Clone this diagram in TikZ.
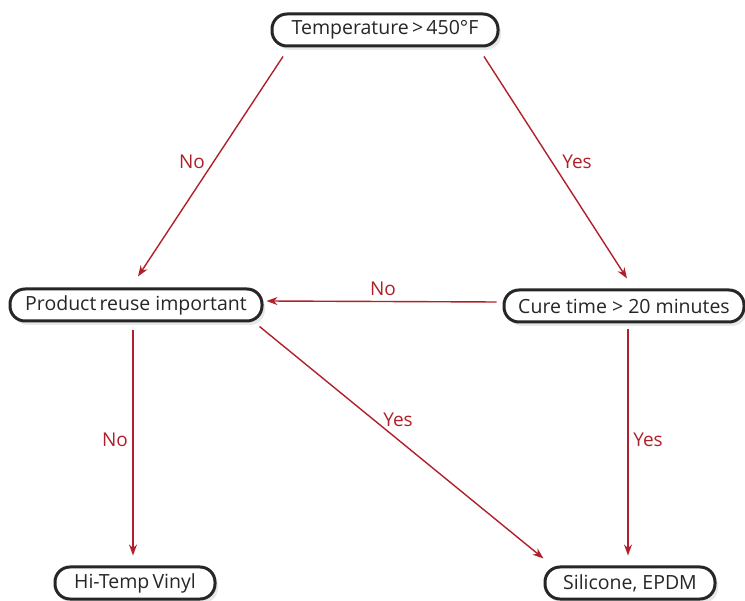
\documentclass[tikz,border=0pt]{standalone}
\usepackage{fontspec}
\setmainfont{Open Sans}
\usetikzlibrary{arrows.meta,shadows,calc}
\definecolor{arr}{HTML}{B0202A}
\definecolor{boxline}{HTML}{262626}
\tikzset{
  box/.style={draw=boxline, line width=3pt, rounded corners=15pt, fill=white,
    minimum height=32pt, inner sep=0pt, font=\fontsize{19.5}{23}\selectfont, text=black!85,
    drop shadow={opacity=0.18, shadow xshift=3pt, shadow yshift=-4pt}},
  conn/.style={draw=arr, line width=1.4pt, -{Stealth[length=11pt,width=8pt]}},
  lbl/.style={text=arr, font=\fontsize{19}{23}\selectfont, inner sep=0pt}
}
\begin{document}
\begin{tikzpicture}[x=1pt,y=-1pt]
\useasboundingbox (0,0) rectangle (745,601);
\node[box, minimum width=226pt] (top) at (385,30) {Temperature\,>\,450\textdegree F};
\node[box, minimum width=252pt] (prod) at (136,305) {Product\,reuse important};
\node[box, minimum width=240pt] (cure) at (624,306) {Cure time > 20 minutes};
\node[box, minimum width=160pt] (vinyl) at (135,583) {Hi-Temp\,Vinyl};
\node[box, minimum width=170pt] (sil) at (630,583) {Silicone, EPDM};

\draw[conn] ([xshift=-102pt,yshift=-9pt]top.south) -- ([xshift=2pt,yshift=11pt]prod.north);
\draw[conn] ([xshift=99pt,yshift=-9pt]top.south) -- ([xshift=3pt,yshift=10pt]cure.north);
\draw[conn] ([xshift=-6pt,yshift=4pt]cure.west) -- ([xshift=3pt,yshift=4pt]prod.east);
\draw[conn] ([xshift=-3pt,yshift=-8pt]prod.south) -- ([xshift=-2pt,yshift=10pt]vinyl.north);
\draw[conn] ([xshift=-4pt,yshift=-4pt]prod.south east) -- ([xshift=0pt,yshift=7pt]sil.north west);
\draw[conn] ([xshift=4pt,yshift=-6pt]cure.south) -- ([xshift=-2pt,yshift=10pt]sil.north);

\node[lbl] (l1) at (192,162) {No};
\node[lbl] (l2) at (577,162) {Yes};
\node[lbl] (l3) at (383,289) {No};
\node[lbl] (l4) at (115,440) {No};
\node[lbl] (l5) at (398,420) {Yes};
\node[lbl] (l6) at (648,440) {Yes};
\end{tikzpicture}
\end{document}
